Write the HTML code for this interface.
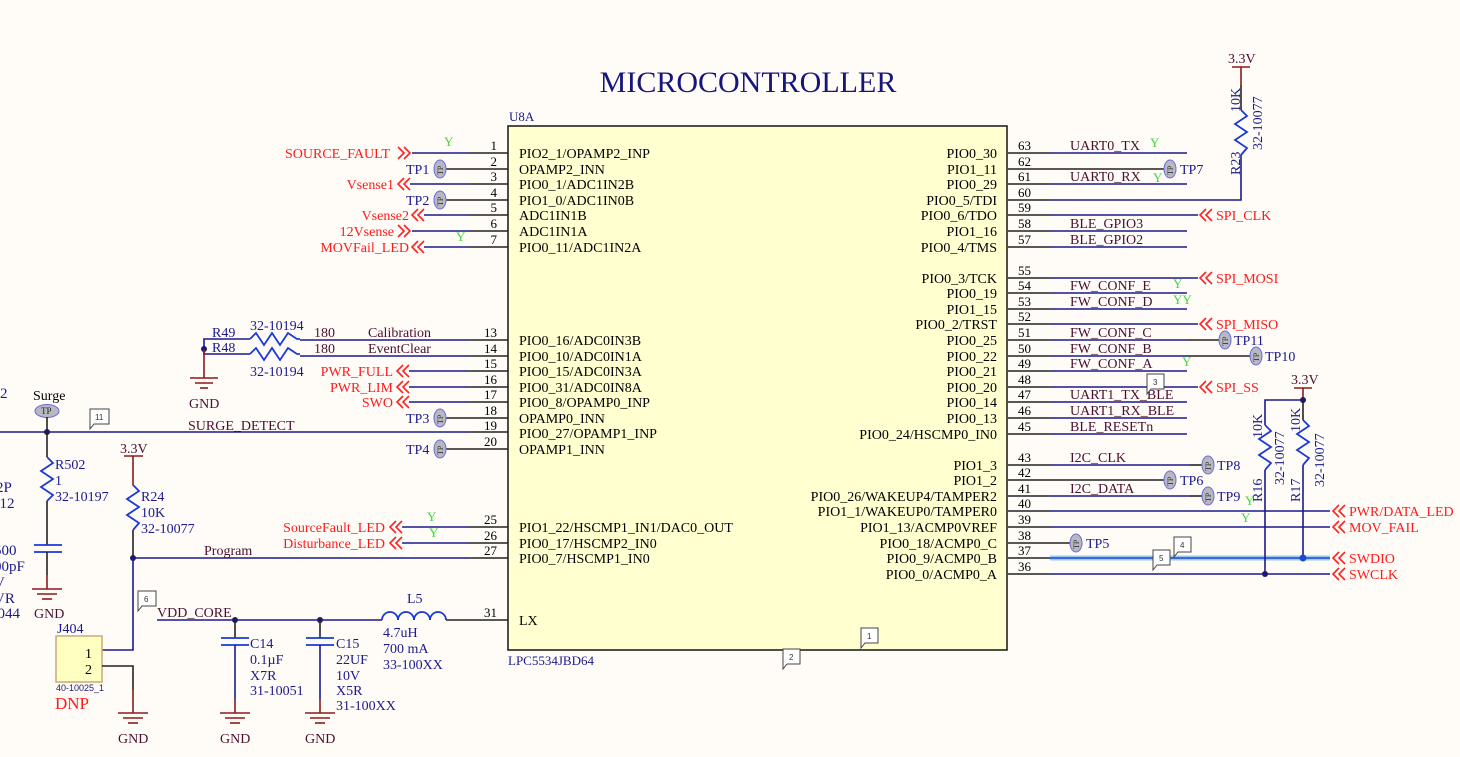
<!DOCTYPE html>
<html><head><meta charset="utf-8"><style>
html,body{margin:0;padding:0;background:#fffcf8}
svg{display:block;font-family:"Liberation Serif",serif}
.w{stroke:#1a1a8c;stroke-width:1.6;fill:none}
.k{stroke:#222;stroke-width:1.6;fill:none}
.r{stroke:#ff2020;stroke-width:1.6;fill:none}
.m{stroke:#8b1a1a;stroke-width:1.6;fill:none}
.z{stroke:#1a3ad8;stroke-width:1.8;fill:none}
.t{font-size:14px;fill:#000}
.n{font-size:13px;fill:#000}
.b{font-size:14px;fill:#1a1a8c}
.rt{font-size:14px;fill:#ff1a1a}
.nl{font-size:14px;fill:#4a0f30}
.y{font-size:13px;fill:#3fd83f}
.tp{fill:#b8b8c0;stroke:#6a6ae0;stroke-width:1}
.tpt{font-size:8px;fill:#333}
.cb{fill:#fff;stroke:#444;stroke-width:1}
</style></head><body>
<svg width="1460" height="757" viewBox="0 0 1460 757" xmlns="http://www.w3.org/2000/svg">
<rect width="1460" height="757" fill="#fffcf8"/>
<text x="748" y="92" text-anchor="middle" font-size="30" fill="#16167a">MICROCONTROLLER</text>
<text x="509" y="121" class="b" style="font-size:13px">U8A</text>
<rect x="508" y="126" width="499" height="524" fill="#ffffd0" stroke="#222" stroke-width="1.6"/>
<text x="508" y="665" class="b" style="font-size:13px">LPC5534JBD64</text>

<!-- LEFT PINS -->
<g class="w">
<line x1="412" y1="153" x2="470" y2="153"/><line x1="410" y1="184" x2="470" y2="184"/><line x1="424" y1="215" x2="470" y2="215"/>
<line x1="412" y1="231" x2="470" y2="231"/><line x1="424" y1="247" x2="470" y2="247"/>
<line x1="300" y1="340" x2="470" y2="340"/><line x1="300" y1="356" x2="470" y2="356"/>
<line x1="409" y1="371" x2="470" y2="371"/><line x1="409" y1="387" x2="470" y2="387"/><line x1="409" y1="402" x2="470" y2="402"/>
<line x1="0" y1="432" x2="470" y2="432"/>
<line x1="402" y1="527" x2="470" y2="527"/><line x1="402" y1="543" x2="470" y2="543"/>
<line x1="133" y1="558" x2="470" y2="558"/>
<line x1="157" y1="620" x2="382" y2="620"/>
</g>
<g class="k">
<line x1="470" y1="153" x2="508" y2="153"/><line x1="446" y1="169" x2="508" y2="169"/><line x1="470" y1="184" x2="508" y2="184"/><line x1="446" y1="200" x2="508" y2="200"/>
<line x1="470" y1="215" x2="508" y2="215"/><line x1="470" y1="231" x2="508" y2="231"/><line x1="470" y1="247" x2="508" y2="247"/>
<line x1="470" y1="340" x2="508" y2="340"/><line x1="470" y1="356" x2="508" y2="356"/><line x1="470" y1="371" x2="508" y2="371"/><line x1="470" y1="387" x2="508" y2="387"/>
<line x1="470" y1="402" x2="508" y2="402"/><line x1="446" y1="418" x2="508" y2="418"/><line x1="470" y1="432" x2="508" y2="432"/><line x1="446" y1="449" x2="508" y2="449"/>
<line x1="470" y1="527" x2="508" y2="527"/><line x1="470" y1="543" x2="508" y2="543"/><line x1="470" y1="558" x2="508" y2="558"/><line x1="446" y1="620" x2="508" y2="620"/>
</g>
<g class="n" text-anchor="end">
<text x="497" y="150">1</text><text x="497" y="166">2</text><text x="497" y="181">3</text><text x="497" y="197">4</text><text x="497" y="212">5</text><text x="497" y="228">6</text><text x="497" y="244">7</text>
<text x="497" y="337">13</text><text x="497" y="353">14</text><text x="497" y="368">15</text><text x="497" y="384">16</text><text x="497" y="399">17</text><text x="497" y="415">18</text><text x="497" y="430">19</text><text x="497" y="446">20</text>
<text x="497" y="524">25</text><text x="497" y="540">26</text><text x="497" y="555">27</text><text x="497" y="617">31</text>
</g>
<g class="t">
<text x="519" y="158">PIO2_1/OPAMP2_INP</text><text x="519" y="174">OPAMP2_INN</text><text x="519" y="189">PIO0_1/ADC1IN2B</text><text x="519" y="205">PIO1_0/ADC1IN0B</text>
<text x="519" y="220">ADC1IN1B</text><text x="519" y="236">ADC1IN1A</text><text x="519" y="252">PIO0_11/ADC1IN2A</text>
<text x="519" y="345">PIO0_16/ADC0IN3B</text><text x="519" y="361">PIO0_10/ADC0IN1A</text><text x="519" y="376">PIO0_15/ADC0IN3A</text><text x="519" y="392">PIO0_31/ADC0IN8A</text>
<text x="519" y="407">PIO0_8/OPAMP0_INP</text><text x="519" y="423">OPAMP0_INN</text><text x="519" y="438">PIO0_27/OPAMP1_INP</text><text x="519" y="454">OPAMP1_INN</text>
<text x="519" y="532">PIO1_22/HSCMP1_IN1/DAC0_OUT</text><text x="519" y="548">PIO0_17/HSCMP2_IN0</text><text x="519" y="563">PIO0_7/HSCMP1_IN0</text>
<text x="519" y="625">LX</text>
</g>
<!-- left ports -->
<g class="r">
<polyline points="398,147 404,153 398,159"/><polyline points="404,147 410,153 404,159"/>
<polyline points="404,178 398,184 404,190"/><polyline points="410,178 404,184 410,190"/>
<polyline points="418,209 412,215 418,221"/><polyline points="424,209 418,215 424,221"/>
<polyline points="398,225 404,231 398,237"/><polyline points="404,225 410,231 404,237"/>
<polyline points="418,241 412,247 418,253"/><polyline points="424,241 418,247 424,253"/>
<polyline points="403,365 397,371 403,377"/><polyline points="409,365 403,371 409,377"/>
<polyline points="403,381 397,387 403,393"/><polyline points="409,381 403,387 409,393"/>
<polyline points="403,396 397,402 403,408"/><polyline points="409,396 403,402 409,408"/>
<polyline points="396,521 390,527 396,533"/><polyline points="402,521 396,527 402,533"/>
<polyline points="396,537 390,543 396,549"/><polyline points="402,537 396,543 402,549"/>
</g>
<g class="rt" text-anchor="end">
<text x="390" y="158">SOURCE_FAULT</text><text x="394" y="189">Vsense1</text><text x="409" y="220">Vsense2</text><text x="394" y="236">12Vsense</text><text x="409" y="252">MOVFail_LED</text>
<text x="393" y="376">PWR_FULL</text><text x="393" y="392">PWR_LIM</text><text x="393" y="407">SWO</text>
<text x="385" y="532">SourceFault_LED</text><text x="385" y="548">Disturbance_LED</text>
</g>
<text x="444" y="146" class="y">Y</text><text x="456" y="241" class="y">Y</text><text x="427" y="521" class="y">Y</text><text x="429" y="537" class="y">Y</text>
<!-- left TPs -->
<g>
<ellipse cx="440" cy="169" rx="6" ry="9" class="tp"/><ellipse cx="440" cy="200" rx="6" ry="9" class="tp"/>
<ellipse cx="440" cy="418" rx="6" ry="9" class="tp"/><ellipse cx="440" cy="449" rx="6" ry="9" class="tp"/>
</g>
<g class="tpt">
<text transform="translate(443,175) rotate(-90)">TP</text><text transform="translate(443,206) rotate(-90)">TP</text>
<text transform="translate(443,424) rotate(-90)">TP</text><text transform="translate(443,455) rotate(-90)">TP</text>
</g>
<g class="b"><text x="406" y="174">TP1</text><text x="406" y="205">TP2</text><text x="406" y="423">TP3</text><text x="406" y="454">TP4</text></g>
<g class="nl"><text x="314" y="337">180</text><text x="368" y="337">Calibration</text><text x="314" y="353">180</text><text x="368" y="353">EventClear</text>
<text x="188" y="430">SURGE_DETECT</text><text x="204" y="555">Program</text><text x="157" y="617">VDD_CORE</text></g>

<!-- R49/R48 -->
<polyline class="w" points="204,349 204,339 250,339"/><polyline class="w" points="204,349 204,354 250,354"/>
<polyline class="z" points="250,339 256,333 264,345 272,333 280,345 288,333 297,339 300,339"/>
<polyline class="z" points="250,354 256,348 264,360 272,348 280,360 288,348 297,354 300,354"/>
<circle cx="204" cy="349" r="3" fill="#1a1a6c"/>
<line class="m" x1="204" y1="349" x2="204" y2="378"/>
<g class="m"><line x1="190" y1="378" x2="218" y2="378"/><line x1="195" y1="383" x2="213" y2="383"/><line x1="200" y1="388" x2="208" y2="388"/></g>
<text x="189" y="408" class="nl">GND</text>
<g class="b"><text x="212" y="337">R49</text><text x="212" y="352">R48</text><text x="250" y="330">32-10194</text><text x="250" y="376">32-10194</text></g>

<!-- Surge -->
<text x="33" y="400" class="t">Surge</text>
<ellipse cx="47" cy="411" rx="12" ry="6.5" class="tp"/><text x="41" y="414" font-size="9" fill="#222">TP</text>
<line class="k" x1="47" y1="417" x2="47" y2="432"/>
<circle cx="47" cy="432" r="3" fill="#1a1a6c"/>
<line class="k" x1="47" y1="432" x2="47" y2="457"/>
<polyline class="z" points="47,457 53,463 41,471 53,479 41,487 53,495 47,501"/>
<line class="k" x1="47" y1="501" x2="47" y2="545"/>
<line class="z" x1="34" y1="545" x2="62" y2="545"/><line class="z" x1="34" y1="552" x2="62" y2="552"/>
<line class="k" x1="47" y1="552" x2="47" y2="575"/><line class="m" x1="47" y1="575" x2="47" y2="589"/>
<g class="m"><line x1="32" y1="589" x2="62" y2="589"/><line x1="37" y1="594" x2="57" y2="594"/><line x1="42" y1="599" x2="52" y2="599"/></g>
<text x="34" y="618" class="nl">GND</text>
<g class="b"><text x="55" y="469">R502</text><text x="55" y="485">1</text><text x="55" y="501">32-10197</text></g>
<g class="b" style="font-size:15px"><text x="0" y="398">2</text><text x="-4" y="492">2P</text><text x="-8" y="508">012</text><text x="-6" y="555">500</text><text x="-6" y="571">00pF</text><text x="-6" y="587">V</text><text x="-6" y="603">VR</text><text x="-10" y="618">0044</text></g>

<!-- R24 / J404 -->
<text x="120" y="453" class="nl">3.3V</text>
<line class="m" x1="124" y1="456" x2="143" y2="456"/><line class="m" x1="133" y1="456" x2="133" y2="485"/>
<polyline class="z" points="133,485 139,491 127,499 139,507 127,515 139,523 133,530"/>
<line class="k" x1="133" y1="530" x2="133" y2="558"/>
<circle cx="133" cy="558" r="3" fill="#1a1a6c"/>
<polyline class="w" points="133,558 133,650 102,650"/>
<g class="b"><text x="141" y="501">R24</text><text x="141" y="517">10K</text><text x="141" y="533">32-10077</text></g>
<rect x="56" y="636" width="46" height="46" fill="#ffffc0" stroke="#c8a880" stroke-width="1.5"/>
<text x="57" y="633" class="b">J404</text>
<text x="85" y="658" class="t">1</text><text x="85" y="674" class="t">2</text>
<polyline class="k" points="102,666 133,666 133,690"/><line class="m" x1="133" y1="690" x2="133" y2="713"/>
<g class="m"><line x1="118" y1="713" x2="148" y2="713"/><line x1="123" y1="718" x2="143" y2="718"/><line x1="128" y1="723" x2="138" y2="723"/></g>
<text x="118" y="743" class="nl">GND</text>
<text x="56" y="691" font-size="9" fill="#1a1a6c" font-family="Liberation Sans,sans-serif">40-10025_1</text>
<text x="55" y="709" font-size="17" fill="#ff1a1a">DNP</text>

<!-- VDD_CORE caps -->
<circle cx="235" cy="620" r="3" fill="#1a1a6c"/><circle cx="320" cy="620" r="3" fill="#1a1a6c"/>
<line class="k" x1="235" y1="620" x2="235" y2="638"/><line class="z" x1="221" y1="638" x2="249" y2="638"/><line class="z" x1="221" y1="645" x2="249" y2="645"/><line class="w" x1="235" y1="645" x2="235" y2="699"/><line class="m" x1="235" y1="699" x2="235" y2="713"/>
<line class="k" x1="320" y1="620" x2="320" y2="638"/><line class="z" x1="306" y1="638" x2="334" y2="638"/><line class="z" x1="306" y1="645" x2="334" y2="645"/><line class="w" x1="320" y1="645" x2="320" y2="699"/><line class="m" x1="320" y1="699" x2="320" y2="713"/>
<g class="m"><line x1="220" y1="713" x2="250" y2="713"/><line x1="225" y1="718" x2="245" y2="718"/><line x1="230" y1="723" x2="240" y2="723"/>
<line x1="305" y1="713" x2="335" y2="713"/><line x1="310" y1="718" x2="330" y2="718"/><line x1="315" y1="723" x2="325" y2="723"/></g>
<text x="220" y="743" class="nl">GND</text><text x="305" y="743" class="nl">GND</text>
<g class="b"><text x="250" y="648">C14</text><text x="250" y="664">0.1µF</text><text x="250" y="680">X7R</text><text x="250" y="695">31-10051</text>
<text x="336" y="648">C15</text><text x="336" y="664">22UF</text><text x="336" y="680">10V</text><text x="336" y="695">X5R</text><text x="336" y="710">31-100XX</text>
<text x="407" y="603">L5</text><text x="383" y="637">4.7uH</text><text x="383" y="653">700 mA</text><text x="383" y="669">33-100XX</text></g>
<path class="z" d="M382,620 a8,8 0 0 1 16,0 a8,8 0 0 1 16,0 a8,8 0 0 1 16,0 a8,8 0 0 1 16,0"/>

<!-- RIGHT PINS -->
<g class="k">
<line x1="1008" y1="153" x2="1050" y2="153"/><line x1="1008" y1="169" x2="1165" y2="169"/><line x1="1008" y1="184" x2="1050" y2="184"/><line x1="1008" y1="200" x2="1050" y2="200"/>
<line x1="1008" y1="215" x2="1050" y2="215"/><line x1="1008" y1="231" x2="1050" y2="231"/><line x1="1008" y1="247" x2="1050" y2="247"/>
<line x1="1008" y1="278" x2="1050" y2="278"/><line x1="1008" y1="293" x2="1050" y2="293"/><line x1="1008" y1="309" x2="1050" y2="309"/><line x1="1008" y1="324" x2="1050" y2="324"/>
<line x1="1008" y1="340" x2="1050" y2="340"/><line x1="1008" y1="356" x2="1050" y2="356"/><line x1="1008" y1="371" x2="1050" y2="371"/><line x1="1008" y1="387" x2="1050" y2="387"/>
<line x1="1008" y1="402" x2="1050" y2="402"/><line x1="1008" y1="418" x2="1050" y2="418"/><line x1="1008" y1="434" x2="1050" y2="434"/>
<line x1="1008" y1="465" x2="1050" y2="465"/><line x1="1008" y1="480" x2="1165" y2="480"/><line x1="1008" y1="496" x2="1050" y2="496"/><line x1="1008" y1="511" x2="1050" y2="511"/>
<line x1="1008" y1="527" x2="1050" y2="527"/><line x1="1008" y1="543" x2="1070" y2="543"/><line x1="1008" y1="558" x2="1050" y2="558"/><line x1="1008" y1="574" x2="1050" y2="574"/>
<line x1="1187" y1="340" x2="1220" y2="340"/><line x1="1187" y1="356" x2="1250" y2="356"/><line x1="1190" y1="465" x2="1202" y2="465"/><line x1="1190" y1="496" x2="1202" y2="496"/>
</g>
<g class="w">
<line x1="1050" y1="153" x2="1187" y2="153"/><line x1="1050" y1="184" x2="1187" y2="184"/><polyline points="1050,200 1241,200 1241,158"/>
<line x1="1050" y1="215" x2="1198" y2="215"/><line x1="1050" y1="231" x2="1187" y2="231"/><line x1="1050" y1="247" x2="1187" y2="247"/>
<line x1="1050" y1="278" x2="1198" y2="278"/><line x1="1050" y1="293" x2="1187" y2="293"/><line x1="1050" y1="309" x2="1187" y2="309"/><line x1="1050" y1="324" x2="1198" y2="324"/>
<line x1="1050" y1="340" x2="1187" y2="340"/><line x1="1050" y1="356" x2="1187" y2="356"/><line x1="1050" y1="371" x2="1187" y2="371"/><line x1="1050" y1="387" x2="1198" y2="387"/>
<line x1="1050" y1="402" x2="1187" y2="402"/><line x1="1050" y1="418" x2="1187" y2="418"/><line x1="1050" y1="434" x2="1187" y2="434"/>
<line x1="1050" y1="465" x2="1190" y2="465"/><line x1="1050" y1="496" x2="1190" y2="496"/>
<line x1="1050" y1="511" x2="1330" y2="511"/><line x1="1050" y1="527" x2="1330" y2="527"/>
<line x1="1050" y1="574" x2="1330" y2="574"/>
</g>
<line x1="1050" y1="558" x2="1330" y2="558" stroke="#9cc8f0" stroke-width="5"/>
<line x1="1050" y1="558" x2="1330" y2="558" stroke="#1a4ad0" stroke-width="1.6"/>
<g class="n">
<text x="1018" y="150">63</text><text x="1018" y="166">62</text><text x="1018" y="181">61</text><text x="1018" y="197">60</text><text x="1018" y="212">59</text><text x="1018" y="228">58</text><text x="1018" y="244">57</text>
<text x="1018" y="275">55</text><text x="1018" y="290">54</text><text x="1018" y="306">53</text><text x="1018" y="321">52</text><text x="1018" y="337">51</text><text x="1018" y="353">50</text><text x="1018" y="368">49</text>
<text x="1018" y="384">48</text><text x="1018" y="399">47</text><text x="1018" y="415">46</text><text x="1018" y="431">45</text>
<text x="1018" y="462">43</text><text x="1018" y="477">42</text><text x="1018" y="493">41</text><text x="1018" y="508">40</text><text x="1018" y="524">39</text><text x="1018" y="540">38</text><text x="1018" y="555">37</text><text x="1018" y="571">36</text>
</g>
<g class="t" text-anchor="end">
<text x="997" y="158">PIO0_30</text><text x="997" y="174">PIO1_11</text><text x="997" y="189">PIO0_29</text><text x="997" y="205">PIO0_5/TDI</text><text x="997" y="220">PIO0_6/TDO</text><text x="997" y="236">PIO1_16</text><text x="997" y="252">PIO0_4/TMS</text>
<text x="997" y="283">PIO0_3/TCK</text><text x="997" y="298">PIO0_19</text><text x="997" y="314">PIO1_15</text><text x="997" y="329">PIO0_2/TRST</text><text x="997" y="345">PIO0_25</text><text x="997" y="361">PIO0_22</text><text x="997" y="376">PIO0_21</text>
<text x="997" y="392">PIO0_20</text><text x="997" y="407">PIO0_14</text><text x="997" y="423">PIO0_13</text><text x="997" y="439">PIO0_24/HSCMP0_IN0</text>
<text x="997" y="470">PIO1_3</text><text x="997" y="485">PIO1_2</text><text x="997" y="501">PIO0_26/WAKEUP4/TAMPER2</text><text x="997" y="516">PIO1_1/WAKEUP0/TAMPER0</text><text x="997" y="532">PIO1_13/ACMP0VREF</text>
<text x="997" y="548">PIO0_18/ACMP0_C</text><text x="997" y="563">PIO0_9/ACMP0_B</text><text x="997" y="579">PIO0_0/ACMP0_A</text>
</g>
<g class="nl">
<text x="1070" y="150">UART0_TX</text><text x="1070" y="181">UART0_RX</text><text x="1070" y="228">BLE_GPIO3</text><text x="1070" y="244">BLE_GPIO2</text>
<text x="1070" y="290">FW_CONF_E</text><text x="1070" y="306">FW_CONF_D</text><text x="1070" y="337">FW_CONF_C</text><text x="1070" y="353">FW_CONF_B</text><text x="1070" y="368">FW_CONF_A</text>
<text x="1070" y="399">UART1_TX_BLE</text><text x="1070" y="415">UART1_RX_BLE</text><text x="1070" y="431">BLE_RESETn</text>
<text x="1070" y="462">I2C_CLK</text><text x="1070" y="493">I2C_DATA</text>
</g>
<g class="y"><text x="1150" y="147">Y</text><text x="1153" y="182">Y</text><text x="1173" y="288">Y</text><text x="1173" y="304">YY</text><text x="1182" y="366">Y</text><text x="1245" y="505">Y</text><text x="1241" y="522">Y</text></g>
<!-- right ports -->
<g class="r">
<polyline points="1206,209 1200,215 1206,221"/><polyline points="1212,209 1206,215 1212,221"/>
<polyline points="1206,272 1200,278 1206,284"/><polyline points="1212,272 1206,278 1212,284"/>
<polyline points="1206,318 1200,324 1206,330"/><polyline points="1212,318 1206,324 1212,330"/>
<polyline points="1206,381 1200,387 1206,393"/><polyline points="1212,381 1206,387 1212,393"/>
<polyline points="1339,505 1333,511 1339,517"/><polyline points="1345,505 1339,511 1345,517"/>
<polyline points="1339,521 1333,527 1339,533"/><polyline points="1345,521 1339,527 1345,533"/>
<polyline points="1339,552 1333,558 1339,564"/><polyline points="1345,552 1339,558 1345,564"/>
<polyline points="1339,568 1333,574 1339,580"/><polyline points="1345,568 1339,574 1345,580"/>
</g>
<g class="rt"><text x="1216" y="220">SPI_CLK</text><text x="1216" y="283">SPI_MOSI</text><text x="1216" y="329">SPI_MISO</text><text x="1216" y="392">SPI_SS</text>
<text x="1349" y="516">PWR/DATA_LED</text><text x="1349" y="532">MOV_FAIL</text><text x="1349" y="563">SWDIO</text><text x="1349" y="579">SWCLK</text></g>
<!-- right TPs -->
<g>
<ellipse cx="1170" cy="169" rx="6" ry="9" class="tp"/><ellipse cx="1225" cy="340" rx="6" ry="9" class="tp"/><ellipse cx="1256" cy="356" rx="6" ry="9" class="tp"/>
<ellipse cx="1208" cy="465" rx="6" ry="9" class="tp"/><ellipse cx="1170" cy="480" rx="6" ry="9" class="tp"/><ellipse cx="1208" cy="496" rx="6" ry="9" class="tp"/><ellipse cx="1076" cy="543" rx="6" ry="9" class="tp"/>
</g>
<g class="tpt">
<text transform="translate(1173,175) rotate(-90)">TP</text><text transform="translate(1228,346) rotate(-90)">TP</text><text transform="translate(1259,362) rotate(-90)">TP</text>
<text transform="translate(1211,471) rotate(-90)">TP</text><text transform="translate(1173,486) rotate(-90)">TP</text><text transform="translate(1211,502) rotate(-90)">TP</text><text transform="translate(1079,549) rotate(-90)">TP</text>
</g>
<g class="b"><text x="1180" y="174">TP7</text><text x="1234" y="345">TP11</text><text x="1265" y="361">TP10</text><text x="1217" y="470">TP8</text><text x="1180" y="485">TP6</text><text x="1217" y="501">TP9</text><text x="1086" y="548">TP5</text></g>

<!-- R23 -->
<text x="1228" y="63" class="nl">3.3V</text>
<line class="m" x1="1232" y1="67" x2="1250" y2="67"/><line class="m" x1="1241" y1="67" x2="1241" y2="85"/>
<line class="k" x1="1241" y1="85" x2="1241" y2="110"/>
<polyline class="z" points="1241,110 1247,116 1235,124 1247,132 1235,140 1247,148 1241,155 1241,158"/>
<g class="b">
<text transform="translate(1240,112) rotate(-90)">10K</text>
<text transform="translate(1240,175) rotate(-90)">R23</text>
<text transform="translate(1262,150) rotate(-90)">32-10077</text>
</g>
<!-- R16/R17 -->
<text x="1291" y="384" class="nl">3.3V</text>
<line class="m" x1="1294" y1="388" x2="1312" y2="388"/><line class="m" x1="1303" y1="388" x2="1303" y2="400"/>
<circle cx="1303" cy="400" r="3" fill="#1a1a6c"/>
<polyline class="w" points="1303,400 1265,400 1265,425"/>
<polyline class="z" points="1265,425 1271,431 1259,439 1271,447 1259,455 1271,463 1265,470"/>
<line class="w" x1="1265" y1="470" x2="1265" y2="574"/>
<line class="k" x1="1303" y1="400" x2="1303" y2="420"/>
<polyline class="z" points="1303,420 1309,426 1297,434 1309,442 1297,450 1309,458 1303,465"/>
<line class="w" x1="1303" y1="465" x2="1303" y2="558"/>
<circle cx="1265" cy="574" r="3" fill="#1a1a6c"/><circle cx="1303" cy="558" r="3.5" fill="#1a4ad0"/>
<g class="b">
<text transform="translate(1262,438) rotate(-90)">10K</text>
<text transform="translate(1262,502) rotate(-90)">R16</text>
<text transform="translate(1284,485) rotate(-90)">32-10077</text>
<text transform="translate(1300,432) rotate(-90)">10K</text>
<text transform="translate(1300,502) rotate(-90)">R17</text>
<text transform="translate(1324,487) rotate(-90)">32-10077</text>
</g>

<!-- callouts -->
<g font-size="8" fill="#333" font-family="Liberation Sans,sans-serif">
<path class="cb" d="M90,409 h19 v15 h-15 l-4,5 z"/><text x="95" y="420">11</text>
<path class="cb" d="M138,591 h18 v15 h-14 l-4,5 z"/><text x="144" y="602">6</text>
<path class="cb" d="M783,649 h17 v15 h-13 l-4,5 z"/><text x="789" y="660">2</text>
<path class="cb" d="M861,628 h17 v15 h-13 l-4,5 z"/><text x="867" y="639">1</text>
<path class="cb" d="M1147,374 h17 v15 h-13 l-4,5 z"/><text x="1153" y="385">3</text>
<path class="cb" d="M1174,537 h17 v15 h-13 l-4,5 z"/><text x="1180" y="548">4</text>
<path class="cb" d="M1153,550 h17 v15 h-13 l-4,5 z"/><text x="1159" y="561">5</text>
</g>
</svg>
</body></html>
